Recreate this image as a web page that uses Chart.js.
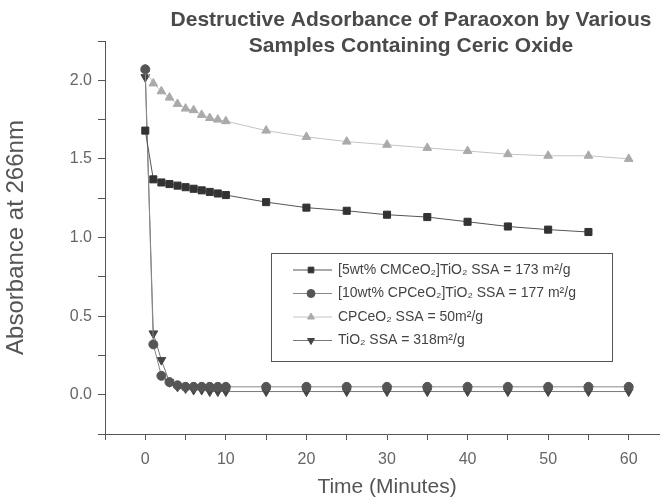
<!DOCTYPE html>
<html>
<head>
<meta charset="utf-8">
<script src="https://cdn.jsdelivr.net/npm/chart.js@4.4.1/dist/chart.umd.min.js"></script>
<style>
  body { margin: 0; background: #fff; overflow: hidden; }
  #wrap { width: 680px; height: 500px; }
</style>
</head>
<body>
<div id="wrap"><canvas id="absChart" width="680" height="500"></canvas></div>
<script>
// time points (minutes)
var minutes = [0, 1, 2, 3, 4, 5, 6, 7, 8, 9, 10, 15, 20, 25, 30, 35, 40, 45, 50, 55, 60];

var cmCeO2TiO2 = [1.68, 1.37, 1.35, 1.34, 1.33, 1.32, 1.31, 1.30, 1.29, 1.28, 1.27,
                  1.225, 1.19, 1.17, 1.145, 1.13, 1.10, 1.07, 1.05, 1.035, null];
var cpCeO2TiO2 = [2.07, 0.32, 0.12, 0.08, 0.06, 0.05, 0.05, 0.05, 0.05, 0.05, 0.05,
                  0.05, 0.05, 0.05, 0.05, 0.05, 0.05, 0.05, 0.05, 0.05, 0.05];
var cpCeO2 = [2.07, 1.98, 1.93, 1.89, 1.85, 1.82, 1.81, 1.78, 1.76, 1.75, 1.74,
              1.68, 1.64, 1.61, 1.59, 1.57, 1.55, 1.53, 1.52, 1.52, 1.50];
var tiO2 = [2.02, 0.39, 0.22, 0.08, 0.05, 0.04, 0.03, 0.03, 0.02, 0.02, 0.02,
            0.02, 0.02, 0.02, 0.02, 0.02, 0.02, 0.02, 0.02, 0.02, 0.02];

var seriesLabels = [
    '[5wt% CMCeO\u2082]TiO\u2082 SSA = 173 m\u00b2/g',
    '[10wt% CPCeO\u2082]TiO\u2082 SSA = 177 m\u00b2/g',
    'CPCeO\u2082 SSA = 50m\u00b2/g',
    'TiO\u2082 SSA = 318m\u00b2/g'
];
var titleLines = ['Destructive Adsorbance of Paraoxon by Various', 'Samples Containing Ceric Oxide'];

var FONT = "'Liberation Sans', Arial, sans-serif";

function pts(vals) {
    return minutes.map(function(t, i) { return {x: t, y: vals[i]}; })
                  .filter(function(p) { return p.y !== null; });
}

// title drawn over the plot, like the original
var titlePlugin = {
    id: 'overTitle',
    afterDraw: function(chart) {
        var ctx = chart.ctx;
        ctx.save();
        ctx.fillStyle = '#4a4a4a';
        ctx.font = 'bold 21px ' + FONT;
        ctx.textAlign = 'center';
        ctx.textBaseline = 'middle';
        ctx.fillText(titleLines[0], 411, 20);
        ctx.fillText(titleLines[1], 411, 46);
        ctx.restore();
    }
};

// boxed legend inside the plot
var boxLegend = {
    id: 'boxLegend',
    afterDraw: function(chart) {
        var ctx = chart.ctx;
        var x0 = 271, y0 = 253, w = 341, h = 108;
        ctx.save();
        ctx.fillStyle = '#fff';
        ctx.fillRect(x0, y0, w, h);
        ctx.strokeStyle = '#555';
        ctx.lineWidth = 1;
        ctx.strokeRect(x0 + 0.5, y0 + 0.5, w, h);
        chart.data.datasets.forEach(function(ds, i) {
            var y = 270 + i * 23.5;
            ctx.strokeStyle = ds.borderColor;
            ctx.lineWidth = 1;
            ctx.beginPath();
            ctx.moveTo(293, y);
            ctx.lineTo(332, y);
            ctx.stroke();
            ctx.fillStyle = ds.pointBackgroundColor;
            ctx.strokeStyle = ds.pointBackgroundColor;
            Chart.helpers.drawPoint(ctx, {
                pointStyle: ds.pointStyle,
                rotation: ds.pointRotation || 0,
                radius: 4,
                borderWidth: 1
            }, 311, y);
            ctx.fillStyle = '#444';
            ctx.font = '14px ' + FONT;
            ctx.textAlign = 'left';
            ctx.textBaseline = 'middle';
            ctx.fillText(ds.label, 338, y);
        });
        ctx.restore();
    }
};

var ctx = document.getElementById('absChart').getContext('2d');
var chart = new Chart(ctx, {
    type: 'line',
    data: {
        datasets: [{
            label: seriesLabels[0],
            data: pts(cmCeO2TiO2),
            borderColor: '#555',
            borderWidth: 1,
            pointStyle: 'rect',
            pointRadius: 5,
            pointBackgroundColor: '#333',
            pointBorderColor: '#333'
        }, {
            label: seriesLabels[1],
            data: pts(cpCeO2TiO2),
            borderColor: '#888',
            borderWidth: 1,
            pointStyle: 'circle',
            pointRadius: 4.5,
            pointBackgroundColor: '#555',
            pointBorderColor: '#555'
        }, {
            label: seriesLabels[2],
            data: pts(cpCeO2),
            borderColor: '#c4c4c4',
            borderWidth: 1,
            pointStyle: 'triangle',
            pointRadius: 5,
            pointBackgroundColor: '#aaa',
            pointBorderColor: '#aaa'
        }, {
            label: seriesLabels[3],
            data: pts(tiO2),
            borderColor: '#777',
            borderWidth: 1,
            pointStyle: 'triangle',
            pointRotation: 180,
            pointRadius: 5,
            pointBackgroundColor: '#444',
            pointBorderColor: '#444'
        }]
    },
    options: {
        responsive: false,
        animation: false,
        layout: { padding: { top: 41, right: 11, left: 0, bottom: 0 } },
        plugins: {
            legend: { display: false },
            tooltip: { enabled: false }
        },
        scales: {
            x: {
                type: 'linear',
                min: -5,
                max: 65,
                afterFit: function(s) { s.height = 66; },
                border: { color: '#555', width: 1 },
                grid: { drawOnChartArea: false, tickLength: 6, color: '#555' },
                ticks: {
                    stepSize: 5,
                    autoSkip: false,
                    maxRotation: 0,
                    padding: 10,
                    color: '#666',
                    font: { family: FONT, size: 16 },
                    callback: function(v) { return (v >= 0 && v % 10 === 0) ? String(v) : ''; }
                },
                title: {
                    display: true,
                    text: 'Time (Minutes)',
                    color: '#555',
                    padding: { top: 0, bottom: 0 },
                    font: { family: FONT, size: 21 }
                }
            },
            y: {
                min: -0.25,
                max: 2.25,
                afterFit: function(s) { s.width = 105; },
                border: { color: '#555', width: 1 },
                grid: { drawOnChartArea: false, tickLength: 7, color: '#555' },
                ticks: {
                    stepSize: 0.25,
                    padding: 6,
                    color: '#666',
                    font: { family: FONT, size: 16 },
                    callback: function(v) {
                        var d = v * 2;
                        return (v >= 0 && Math.abs(d - Math.round(d)) < 1e-6) ? v.toFixed(1) : '';
                    }
                },
                title: {
                    display: true,
                    text: 'Absorbance at 266nm',
                    color: '#555',
                    padding: { top: 2, bottom: 0 },
                    font: { family: FONT, size: 24 }
                }
            }
        }
    },
    plugins: [titlePlugin, boxLegend]
});
</script>
</body>
</html>
